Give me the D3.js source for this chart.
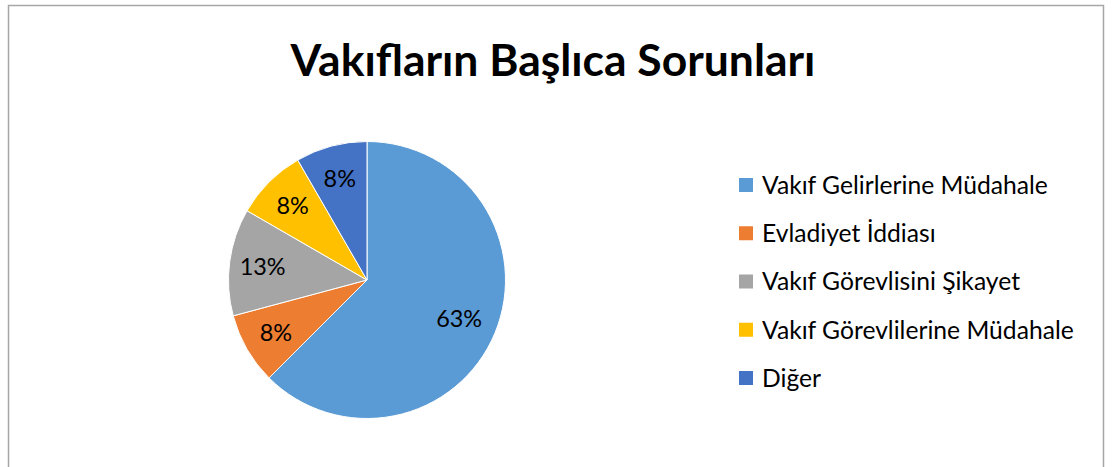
<!DOCTYPE html>
<html>
<head>
<meta charset="utf-8">
<script src="https://cdn.jsdelivr.net/npm/d3@7"></script>
<style>
  body { margin: 0; background: #fff; }
  svg { display: block; font-family: Lato, "Open Sans", sans-serif; }
</style>
</head>
<body>
<div id="chart"></div>
<script>
//chart data
const title = "Vakıfların Başlıca Sorunları";
const categories = ["Vakıf Gelirlerine Müdahale", "Evladiyet İddiası", "Vakıf Görevlisini Şikayet", "Vakıf Görevlilerine Müdahale", "Diğer"];
const counts = [15, 2, 3, 2, 2];
const colors = ["#5B9BD5", "#ED7D31", "#A5A5A5", "#FFC000", "#4472C4"];

const width = 1118, height = 467;

const svg = d3.select("#chart").append("svg")
    .attr("width", width)
    .attr("height", height);

//chart frame
svg.append("rect")
    .attr("x", 8.5).attr("y", 5.5)
    .attr("width", 1095).attr("height", 520)
    .attr("fill", "#fff")
    .attr("stroke", "#a6a6a6")
    .attr("stroke-width", 1.5);

//fit a text element's font size to a target width
function fitWidth(sel, target) {
    sel.attr("font-size", 100);
    const w = sel.node().getComputedTextLength();
    sel.attr("font-size", 100 * target / w);
}

//title
const t = svg.append("text")
    .attr("x", 553)
    .attr("y", 76)
    .attr("text-anchor", "middle")
    .attr("font-weight", "bold")
    .attr("fill", "#000")
    .text(title);
fitWidth(t, 525);

//pie
const cx = 367, cy = 280, radius = 138.5;
const total = d3.sum(counts);
const pie = d3.pie().sort(null).value(function(d){ return d; });
const arc = d3.arc().innerRadius(0).outerRadius(radius);
const labelArc = d3.arc().innerRadius(radius * 0.76).outerRadius(radius * 0.76);

const g = svg.append("g").attr("transform", "translate(" + cx + "," + cy + ")");
const arcs = pie(counts);

g.selectAll("path")
    .data(arcs)
    .enter().append("path")
    .attr("d", arc)
    .attr("fill", function(d, i){ return colors[i]; })
    .attr("stroke", "#fff")
    .attr("stroke-width", 1);

const labels = g.selectAll("text")
    .data(arcs)
    .enter().append("text")
    .attr("transform", function(d, i){
        const c = i === 0 ? d3.arc().innerRadius(radius * 0.72).outerRadius(radius * 0.72).centroid(d) : labelArc.centroid(d);
        return "translate(" + c[0] + "," + c[1] + ")";
    })
    .attr("text-anchor", "middle")
    .attr("dy", "0.36em")
    .attr("fill", "#000")
    .text(function(d){ return Math.round(d.value / total * 100) + "%"; });
labels.attr("font-size", 100);
const lw = labels.filter(function(d, i){ return i === 0; }).node().getComputedTextLength();
labels.attr("font-size", 100 * 46 / lw);

//legend
const legend = svg.append("g");
const rowY = d3.scalePoint().domain(categories).range([185, 378]);

const rows = legend.selectAll("g")
    .data(categories)
    .enter().append("g")
    .attr("transform", function(d){ return "translate(739," + rowY(d) + ")"; });

rows.append("rect")
    .attr("x", 0).attr("y", -7)
    .attr("width", 14).attr("height", 14)
    .attr("fill", function(d, i){ return colors[i]; });

const ltext = rows.append("text")
    .attr("x", 23)
    .attr("dy", "0.36em")
    .attr("fill", "#000")
    .text(function(d){ return d; });
ltext.attr("font-size", 100);
const tw = ltext.filter(function(d, i){ return i === 0; }).node().getComputedTextLength();
ltext.attr("font-size", 100 * 286 / tw);
</script>
</body>
</html>
